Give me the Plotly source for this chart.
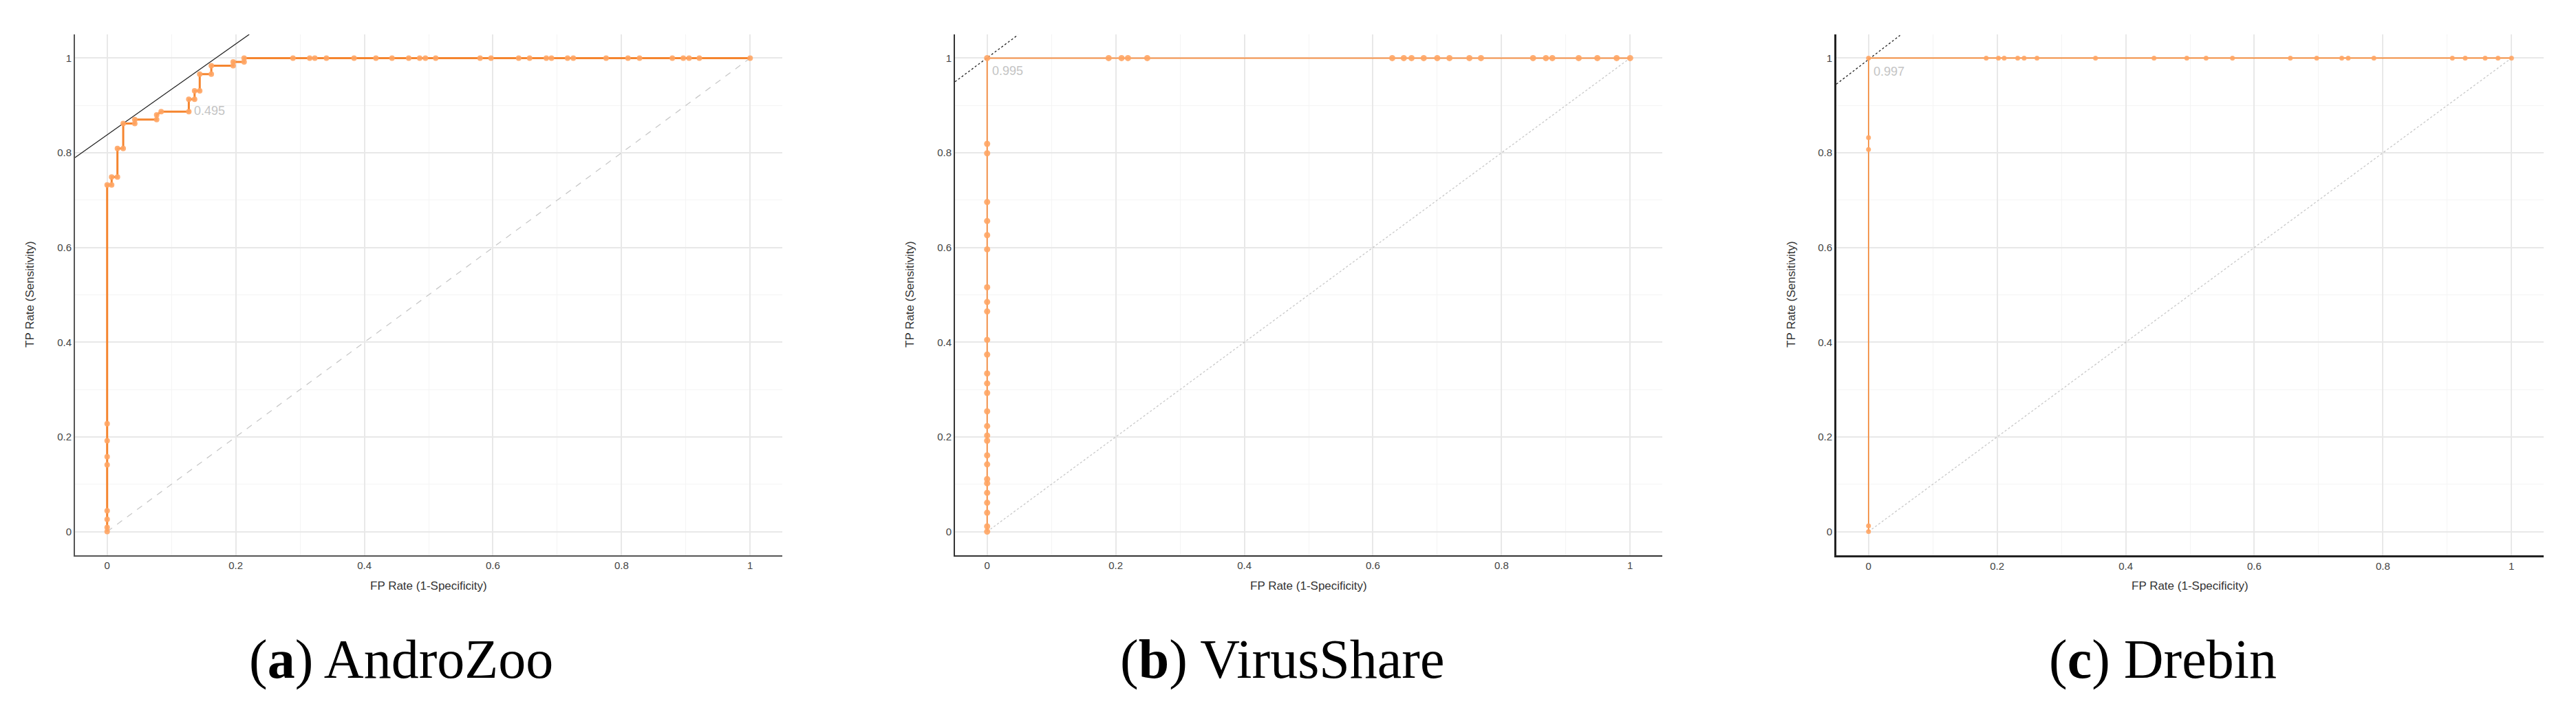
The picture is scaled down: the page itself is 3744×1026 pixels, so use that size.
import plotly.graph_objects as go

# === DONNEES ===
# (a) AndroZoo
andro_fpr = [0, 0, 0, 0, 0, 0, 0, 0, 0, 0.007, 0.007, 0.016, 0.016, 0.025, 0.025, 0.043, 0.043,
             0.077, 0.077, 0.084, 0.127, 0.127, 0.136, 0.136, 0.144, 0.144, 0.162, 0.162, 0.196,
             0.196, 0.213, 0.213, 0.289, 0.315, 0.323, 0.341, 0.384, 0.418, 0.443, 0.469, 0.486,
             0.495, 0.511, 0.580, 0.597, 0.640, 0.657, 0.683, 0.691, 0.716, 0.725, 0.776, 0.810,
             0.828, 0.879, 0.896, 0.905, 0.921, 1.0]
andro_tpr = [0, 0.009, 0.026, 0.044, 0.141, 0.158, 0.192, 0.228, 0.732, 0.732, 0.749, 0.749, 0.809,
             0.809, 0.862, 0.862, 0.870, 0.870, 0.880, 0.887, 0.887, 0.913, 0.913, 0.931, 0.931,
             0.966, 0.966, 0.984, 0.984, 0.992, 0.992, 1.0, 1.0, 1.0, 1.0, 1.0, 1.0, 1.0, 1.0, 1.0,
             1.0, 1.0, 1.0, 1.0, 1.0, 1.0, 1.0, 1.0, 1.0, 1.0, 1.0, 1.0, 1.0, 1.0, 1.0, 1.0, 1.0,
             1.0, 1.0]
andro_tangent_x = [-0.05, 0.221]
andro_tangent_y = [0.79, 1.05]
andro_label = "0.495"
andro_label_pos = (0.133, 0.888)

# (b) VirusShare
virus_fpr = [0] * 28 + [0.189, 0.209, 0.219, 0.249, 0.630, 0.648, 0.660, 0.679, 0.700, 0.719,
                        0.750, 0.768, 0.849, 0.869, 0.879, 0.920, 0.949, 0.979, 1.0]
virus_tpr = [0, 0.011, 0.040, 0.061, 0.082, 0.102, 0.111, 0.142, 0.161, 0.192, 0.203, 0.223,
             0.254, 0.293, 0.313, 0.334, 0.374, 0.405, 0.465, 0.485, 0.516, 0.596, 0.626, 0.656,
             0.696, 0.799, 0.819, 1.0] + [1.0] * 19
virus_tangent_x = [-0.05, 0.048]
virus_tangent_y = [0.95, 1.049]
virus_label = "0.995"
virus_label_pos = (0.006, 0.973)

# (c) Drebin
drebin_fpr = [0, 0.0, 0.0, 0.0, 0.0, 0.183, 0.202, 0.211, 0.232, 0.242, 0.262, 0.353, 0.444,
              0.495, 0.525, 0.566, 0.656, 0.697, 0.736, 0.746, 0.786, 0.908, 0.928, 0.959,
              0.979, 1.0]
drebin_tpr = [0, 0.012, 0.807, 0.832, 1.0] + [1.0] * 21
drebin_tangent_x = [-0.05, 0.049]
drebin_tangent_y = [0.945, 1.048]
drebin_label = "0.997"
drebin_label_pos = (0.006, 0.972)

captions = ["(<b>a</b>) AndroZoo", "(<b>b</b>) VirusShare", "(<b>c</b>) Drebin"]
x_title = "FP Rate (1-Specificity)"
y_title = "TP Rate (Sensitivity)"

# === MISE EN PAGE ===
W, H = 3744, 1026
panel_left = [109, 1388, 2669]
panel_width = 1028
plot_top, plot_bottom = 50, 807
caption_x = [583, 1863, 3143]

styles = [
    dict(line_w=3, line_c="#f5852f", mk=8, diag="dash", tan="solid", axis_c="#555555", axis_w=2),
    dict(line_w=2, line_c="#f5924a", mk=9, diag="dot", tan="dot", axis_c="#333333", axis_w=2),
    dict(line_w=1.6, line_c="#f5852f", mk=7, diag="dot", tan="dot", axis_c="#222222", axis_w=3),
]

panels = [
    (andro_fpr, andro_tpr, andro_tangent_x, andro_tangent_y, andro_label, andro_label_pos),
    (virus_fpr, virus_tpr, virus_tangent_x, virus_tangent_y, virus_label, virus_label_pos),
    (drebin_fpr, drebin_tpr, drebin_tangent_x, drebin_tangent_y, drebin_label, drebin_label_pos),
]

fig = go.Figure()
annotations = []
sans = "Liberation Sans, Arial, sans-serif"

for i, (fpr, tpr, tx, ty, lab, lab_pos) in enumerate(panels):
    st = styles[i]
    suffix = "" if i == 0 else str(i + 1)
    xa, ya = "x" + suffix, "y" + suffix

    # diagonale
    fig.add_trace(go.Scatter(x=[0, 1], y=[0, 1], mode="lines", xaxis=xa, yaxis=ya,
                             line=dict(color="#c8c8c8", width=1.3, dash=st["diag"]),
                             showlegend=False, hoverinfo="skip"))
    # tangente
    fig.add_trace(go.Scatter(x=tx, y=ty, mode="lines", xaxis=xa, yaxis=ya,
                             line=dict(color="#222222", width=1.3, dash=st["tan"]),
                             showlegend=False, hoverinfo="skip"))
    # courbe ROC
    fig.add_trace(go.Scatter(x=fpr, y=tpr, mode="lines+markers", xaxis=xa, yaxis=ya,
                             line=dict(color=st["line_c"], width=st["line_w"]),
                             marker=dict(color="rgba(255,165,100,0.9)", size=st["mk"]),
                             showlegend=False))

    left = panel_left[i] / W
    right = (panel_left[i] + panel_width) / W
    ax_common = dict(range=[-0.05, 1.05], dtick=0.2, showgrid=True, gridcolor="#e8e8e8",
                     gridwidth=1.5, zeroline=False, showline=True, linecolor=st["axis_c"],
                     linewidth=st["axis_w"], ticks="", fixedrange=True,
                     tickfont=dict(family=sans, size=15, color="#444444"),
                     minor=dict(dtick=0.1, showgrid=True, gridcolor="#f4f4f4", gridwidth=1))
    fig.layout["xaxis" + suffix] = dict(ax_common, domain=[left, right], anchor=ya)
    fig.layout["yaxis" + suffix] = dict(ax_common, domain=[1 - plot_bottom / H, 1 - plot_top / H],
                                        anchor=xa)

    # seuil
    annotations.append(dict(x=lab_pos[0], y=lab_pos[1], xref=xa, yref=ya, text=lab,
                            showarrow=False, xanchor="left", yanchor="middle",
                            font=dict(family=sans, size=18, color="#c4c4c4")))
    # titres d'axes
    annotations.append(dict(x=(panel_left[i] + panel_width / 2) / W, y=1 - 851 / H,
                            xref="paper", yref="paper", text=x_title, showarrow=False,
                            xanchor="center", yanchor="middle",
                            font=dict(family=sans, size=17, color="#333333")))
    annotations.append(dict(x=(panel_left[i] - 66) / W, y=1 - 428 / H,
                            xref="paper", yref="paper", text=y_title, showarrow=False,
                            textangle=-90, xanchor="center", yanchor="middle",
                            font=dict(family=sans, size=17, color="#333333")))
    # légende sous la figure
    annotations.append(dict(x=caption_x[i] / W, y=1 - 958 / H, xref="paper", yref="paper",
                            text=captions[i], showarrow=False, xanchor="center",
                            yanchor="middle",
                            font=dict(family="Liberation Serif, Times New Roman, serif",
                                      size=80, color="#000000")))

fig.update_layout(width=W, height=H, margin=dict(l=0, r=0, t=0, b=0),
                  plot_bgcolor="white", paper_bgcolor="white", annotations=annotations)

# pas de marge autour de la figure dans la page, pas de barre d'outils
fig.write_html("out.html", config={"displayModeBar": False},
               post_script="document.body.style.margin='0';document.body.style.overflow='hidden';")
